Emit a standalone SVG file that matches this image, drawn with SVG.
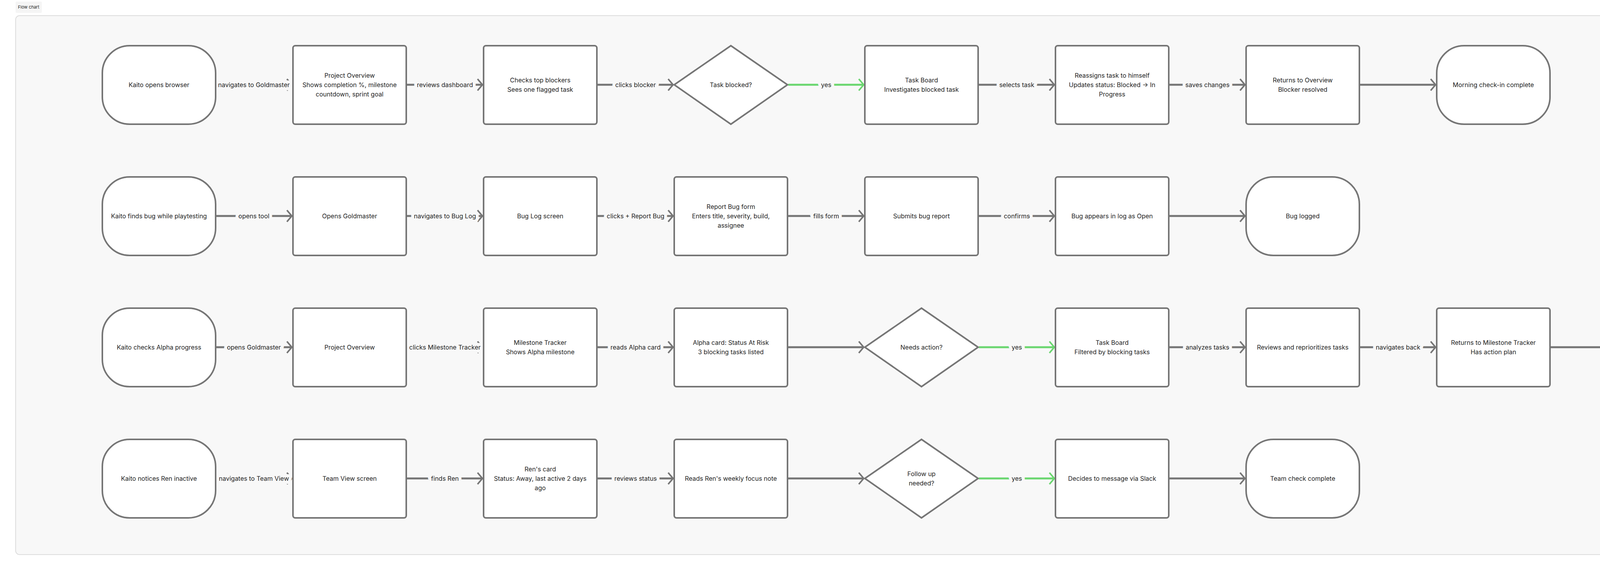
<svg xmlns="http://www.w3.org/2000/svg" width="4544" height="1462" viewBox="0 0 4544 1462">
<defs>
<style>
.n rect,.n polygon{fill:#fff;stroke:#757575;stroke-width:4}
.n text,.lb{font-family:Inter,"Liberation Sans",sans-serif;font-size:16px;fill:#1e1e1e;text-anchor:middle}
.e{stroke:#757575;stroke-width:5;fill:none;marker-end:url(#ah)}
.g{stroke:#6ad66f;stroke-width:5;fill:none;marker-end:url(#ahg)}
.lb{paint-order:stroke;stroke:#f8f8f8;stroke-width:16px;stroke-linejoin:round}
</style>
<marker id="ah" markerUnits="userSpaceOnUse" markerWidth="20" markerHeight="34" viewBox="-14 -15 16 30" refX="0" refY="0" orient="auto"><path d="M-11,-13 L0,0 L-11,13" fill="none" stroke="#757575" stroke-width="3.5"/></marker>
<marker id="ahg" markerUnits="userSpaceOnUse" markerWidth="20" markerHeight="34" viewBox="-14 -15 16 30" refX="0" refY="0" orient="auto"><path d="M-11,-13 L0,0 L-11,13" fill="none" stroke="#6ad66f" stroke-width="3.5"/></marker>
</defs>
<rect x="0" y="0" width="4544" height="1462" fill="#ffffff"/>
<rect x="40" y="4" width="67" height="29" rx="3" fill="#f5f5f5"/>
<text x="46" y="22" font-family="Inter,'Liberation Sans',sans-serif" font-size="11" fill="#1e1e1e">Flow chart</text>
<rect x="40" y="40" width="4462" height="1380" rx="10" fill="#f8f8f8" stroke="#dddddd" stroke-width="2"/>

<g id="connectors">
<!-- row 1 y=217 -->
<path class="e" d="M554,217H747"/><text class="lb" x="650" y="223">navigates to Goldmaster</text>
<path class="e" d="M1042,217H1235"/><text class="lb" x="1139" y="223">reviews dashboard</text>
<path class="e" d="M1530,217H1723"/><text class="lb" x="1627" y="223">clicks blocker</text>
<path class="g" d="M2018,217H2211"/><text class="lb" x="2115" y="223">yes</text>
<path class="e" d="M2506,217H2699"/><text class="lb" x="2603" y="223">selects task</text>
<path class="e" d="M2994,217H3187"/><text class="lb" x="3091" y="223">saves changes</text>
<path class="e" d="M3482,217H3675"/>
<!-- row 2 y=553 -->
<path class="e" d="M554,553H747"/><text class="lb" x="650" y="559">opens tool</text>
<path class="e" d="M1042,553H1235"/><text class="lb" x="1139" y="559">navigates to Bug Log</text>
<path class="e" d="M1530,553H1723"/><text class="lb" x="1627" y="559">clicks + Report Bug</text>
<path class="e" d="M2018,553H2211"/><text class="lb" x="2115" y="559">fills form</text>
<path class="e" d="M2506,553H2699"/><text class="lb" x="2603" y="559">confirms</text>
<path class="e" d="M2994,553H3187"/>
<!-- row 3 y=889 -->
<path class="e" d="M554,889H747"/><text class="lb" x="650" y="895">opens Goldmaster</text>
<path class="e" d="M1042,889H1235"/><text class="lb" x="1139" y="895">clicks Milestone Tracker</text>
<path class="e" d="M1530,889H1723"/><text class="lb" x="1627" y="895">reads Alpha card</text>
<path class="e" d="M2018,889H2211"/>
<path class="g" d="M2506,889H2699"/><text class="lb" x="2603" y="895">yes</text>
<path class="e" d="M2994,889H3187"/><text class="lb" x="3091" y="895">analyzes tasks</text>
<path class="e" d="M3482,889H3675"/><text class="lb" x="3579" y="895">navigates back</text>
<path class="e" d="M3970,889H4163"/>
<!-- row 4 y=1225 -->
<path class="e" d="M554,1225H747"/><text class="lb" x="650" y="1231">navigates to Team View</text>
<path class="e" d="M1042,1225H1235"/><text class="lb" x="1139" y="1231">finds Ren</text>
<path class="e" d="M1530,1225H1723"/><text class="lb" x="1627" y="1231">reviews status</text>
<path class="e" d="M2018,1225H2211"/>
<path class="g" d="M2506,1225H2699"/><text class="lb" x="2603" y="1231">yes</text>
<path class="e" d="M2994,1225H3187"/>
</g>

<!-- Row 1 -->
<g id="r1n1" class="n"><rect x="262" y="117" width="290" height="201" rx="70"/><text x="407" y="223">Kaito opens browser</text></g>
<g id="r1n2" class="n"><rect x="750" y="117" width="290" height="201" rx="6"/><text x="895" y="199">Project Overview</text><text x="895" y="223">Shows completion %, milestone</text><text x="895" y="247">countdown, sprint goal</text></g>
<g id="r1n3" class="n"><rect x="1238" y="117" width="290" height="201" rx="6"/><text x="1383" y="211">Checks top blockers</text><text x="1383" y="235">Sees one flagged task</text></g>
<g id="r1n4" class="n"><polygon points="1871,117 2016,217 1871,318 1726,217"/><text x="1871" y="223">Task blocked?</text></g>
<g id="r1n5" class="n"><rect x="2214" y="117" width="290" height="201" rx="6"/><text x="2359" y="211">Task Board</text><text x="2359" y="235">Investigates blocked task</text></g>
<g id="r1n6" class="n"><rect x="2702" y="117" width="290" height="201" rx="6"/><text x="2847" y="199">Reassigns task to himself</text><text x="2847" y="223">Updates status: Blocked → In</text><text x="2847" y="247">Progress</text></g>
<g id="r1n7" class="n"><rect x="3190" y="117" width="290" height="201" rx="6"/><text x="3335" y="211">Returns to Overview</text><text x="3335" y="235">Blocker resolved</text></g>
<g id="r1n8" class="n"><rect x="3678" y="117" width="290" height="201" rx="70"/><text x="3823" y="223">Morning check-in complete</text></g>

<!-- Row 2 -->
<g id="r2n1" class="n"><rect x="262" y="453" width="290" height="201" rx="70"/><text x="407" y="559">Kaito finds bug while playtesting</text></g>
<g id="r2n2" class="n"><rect x="750" y="453" width="290" height="201" rx="6"/><text x="895" y="559">Opens Goldmaster</text></g>
<g id="r2n3" class="n"><rect x="1238" y="453" width="290" height="201" rx="6"/><text x="1383" y="559">Bug Log screen</text></g>
<g id="r2n4" class="n"><rect x="1726" y="453" width="290" height="201" rx="6"/><text x="1871" y="535">Report Bug form</text><text x="1871" y="559">Enters title, severity, build,</text><text x="1871" y="583">assignee</text></g>
<g id="r2n5" class="n"><rect x="2214" y="453" width="290" height="201" rx="6"/><text x="2359" y="559">Submits bug report</text></g>
<g id="r2n6" class="n"><rect x="2702" y="453" width="290" height="201" rx="6"/><text x="2847" y="559">Bug appears in log as Open</text></g>
<g id="r2n7" class="n"><rect x="3190" y="453" width="290" height="201" rx="70"/><text x="3335" y="559">Bug logged</text></g>

<!-- Row 3 -->
<g id="r3n1" class="n"><rect x="262" y="789" width="290" height="201" rx="70"/><text x="407" y="895">Kaito checks Alpha progress</text></g>
<g id="r3n2" class="n"><rect x="750" y="789" width="290" height="201" rx="6"/><text x="895" y="895">Project Overview</text></g>
<g id="r3n3" class="n"><rect x="1238" y="789" width="290" height="201" rx="6"/><text x="1383" y="883">Milestone Tracker</text><text x="1383" y="907">Shows Alpha milestone</text></g>
<g id="r3n4" class="n"><rect x="1726" y="789" width="290" height="201" rx="6"/><text x="1871" y="883">Alpha card: Status At Risk</text><text x="1871" y="907">3 blocking tasks listed</text></g>
<g id="r3n5" class="n"><polygon points="2359,789 2504,889 2359,990 2214,889"/><text x="2359" y="895">Needs action?</text></g>
<g id="r3n6" class="n"><rect x="2702" y="789" width="290" height="201" rx="6"/><text x="2847" y="883">Task Board</text><text x="2847" y="907">Filtered by blocking tasks</text></g>
<g id="r3n7" class="n"><rect x="3190" y="789" width="290" height="201" rx="6"/><text x="3335" y="895">Reviews and reprioritizes tasks</text></g>
<g id="r3n8" class="n"><rect x="3678" y="789" width="290" height="201" rx="6"/><text x="3823" y="883">Returns to Milestone Tracker</text><text x="3823" y="907">Has action plan</text></g>
<g id="r3n9" class="n"><rect x="4166" y="789" width="290" height="201" rx="70"/><text x="4311" y="895">Milestone reviewed</text></g>

<!-- Row 4 -->
<g id="r4n1" class="n"><rect x="262" y="1125" width="290" height="201" rx="70"/><text x="407" y="1231">Kaito notices Ren inactive</text></g>
<g id="r4n2" class="n"><rect x="750" y="1125" width="290" height="201" rx="6"/><text x="895" y="1231">Team View screen</text></g>
<g id="r4n3" class="n"><rect x="1238" y="1125" width="290" height="201" rx="6"/><text x="1383" y="1207">Ren's card</text><text x="1383" y="1231">Status: Away, last active 2 days</text><text x="1383" y="1255">ago</text></g>
<g id="r4n4" class="n"><rect x="1726" y="1125" width="290" height="201" rx="6"/><text x="1871" y="1231">Reads Ren's weekly focus note</text></g>
<g id="r4n5" class="n"><polygon points="2359,1125 2504,1225 2359,1326 2214,1225"/><text x="2359" y="1219">Follow up</text><text x="2359" y="1243">needed?</text></g>
<g id="r4n6" class="n"><rect x="2702" y="1125" width="290" height="201" rx="6"/><text x="2847" y="1231">Decides to message via Slack</text></g>
<g id="r4n7" class="n"><rect x="3190" y="1125" width="290" height="201" rx="70"/><text x="3335" y="1231">Team check complete</text></g>
</svg>
